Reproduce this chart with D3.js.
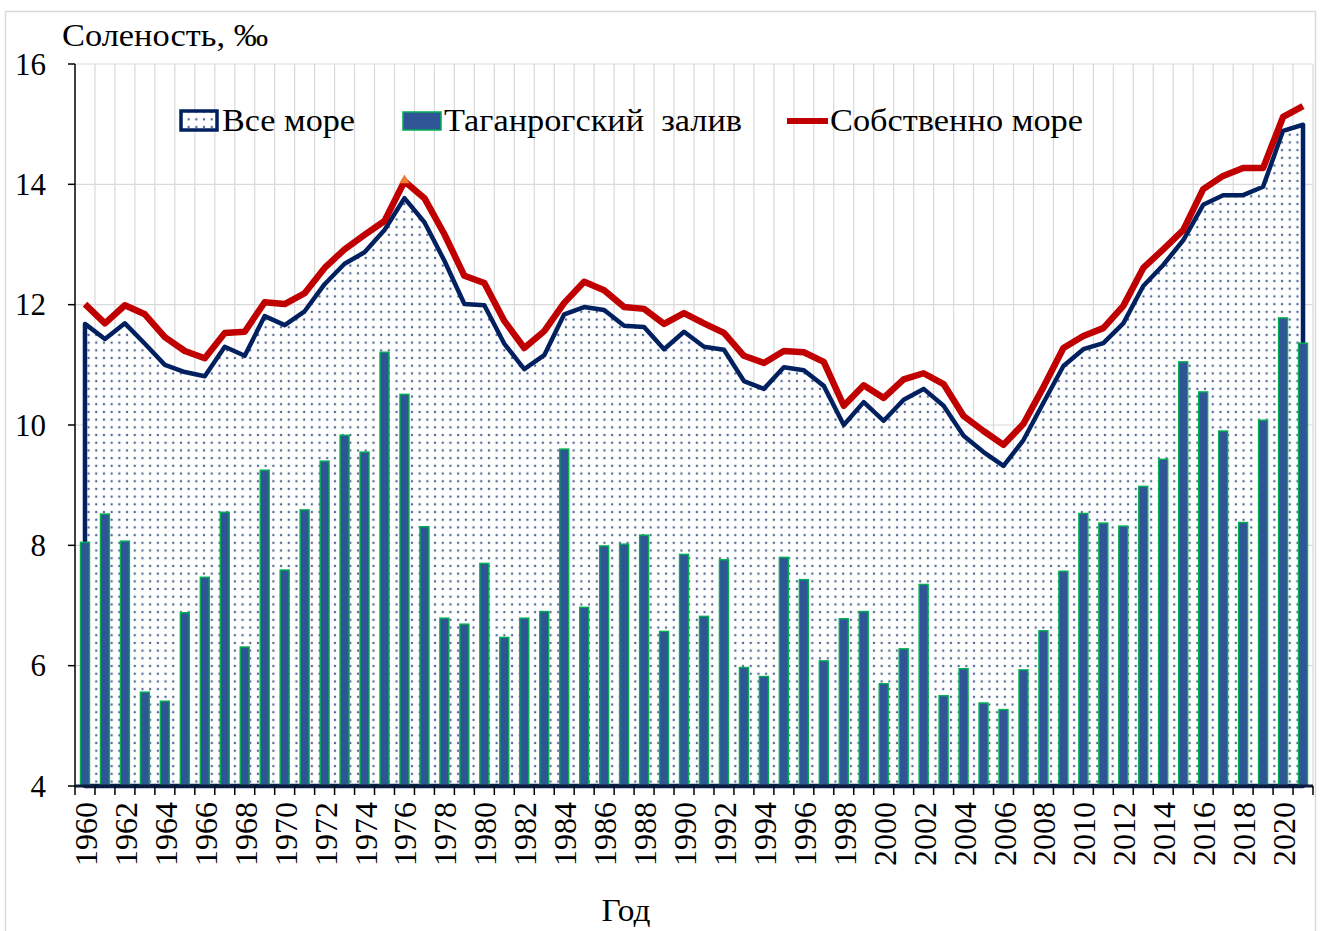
<!DOCTYPE html>
<html><head><meta charset="utf-8">
<script src="https://cdn.jsdelivr.net/npm/d3@7"></script>
<style>body{margin:0;background:#fff} svg{display:block} text{font-family:"Liberation Serif","Times New Roman",serif;fill:#000}</style>
</head><body><svg id="c" width="1320" height="931"></svg>
<script>
const years = [1960,1961,1962,1963,1964,1965,1966,1967,1968,1969,1970,1971,1972,1973,1974,1975,1976,1977,1978,1979,
1980,1981,1982,1983,1984,1985,1986,1987,1988,1989,1990,1991,1992,1993,1994,1995,1996,1997,1998,1999,
2000,2001,2002,2003,2004,2005,2006,2007,2008,2009,2010,2011,2012,2013,2014,2015,2016,2017,2018,2019,2020,2021];
const taganrog = [8.05,8.52,8.07,5.56,5.41,6.88,7.47,8.55,6.31,9.25,7.59,8.59,9.40,9.83,9.55,11.21,10.51,8.31,6.79,6.69,
7.70,6.47,6.79,6.90,9.60,6.97,7.99,8.02,8.17,6.57,7.85,6.82,7.76,5.97,5.82,7.80,7.43,6.08,6.78,6.90,
5.70,6.28,7.35,5.50,5.95,5.38,5.27,5.93,6.58,7.57,8.53,8.37,8.32,8.98,9.43,11.05,10.55,9.90,8.38,10.08,11.78,11.36];
const allSea = [11.68,11.43,11.69,11.35,11.00,10.88,10.81,11.30,11.15,11.81,11.66,11.89,12.34,12.68,12.87,13.24,13.77,13.37,12.73,12.01,
11.99,11.35,10.93,11.16,11.84,11.96,11.91,11.65,11.63,11.26,11.55,11.30,11.25,10.73,10.60,10.96,10.91,10.65,10.00,10.38,
10.07,10.42,10.60,10.32,9.82,9.55,9.32,9.75,10.37,10.98,11.26,11.36,11.69,12.31,12.66,13.07,13.66,13.82,13.82,13.96,14.89,14.99];
const properSea = [12.01,11.69,11.99,11.84,11.46,11.23,11.11,11.53,11.55,12.04,12.01,12.19,12.61,12.92,13.16,13.39,14.05,13.77,13.17,12.48,
12.36,11.73,11.28,11.56,12.03,12.38,12.24,11.96,11.93,11.68,11.86,11.69,11.53,11.15,11.03,11.23,11.21,11.05,10.32,10.66,
10.45,10.76,10.86,10.68,10.15,9.90,9.67,10.02,10.63,11.28,11.48,11.61,11.98,12.61,12.92,13.24,13.92,14.14,14.27,14.27,15.12,15.30];
const yTicks = [4,6,8,10,12,14,16];
const xTickLabels = years.filter(y => y % 2 === 0);
const legendLabels = ["Все море","Таганрогский  залив","Собственно море"];
const yTitle = "Соленость, ‰";
const xTitle = "Год";

const svg = d3.select("#c");
const L = 75, R = 1313, T = 64, B = 786;
const NAVY = "#002060", RED = "#c00000", BAR = "#2f5597", BARSTROKE = "#00b050", GRID = "#d9d9d9";

const x = d3.scaleBand().domain(years).range([L, R]).paddingInner(0.55).paddingOuter(0.275);
const y = d3.scaleLinear().domain([4, 16]).range([B, T]);
const cx = d => x(d) + x.bandwidth() / 2;
const edge = d => x(d) - (x.step() - x.bandwidth()) / 2;

// dotted pattern
const defs = svg.append("defs");
const pat = defs.append("pattern").attr("id","dots").attr("patternUnits","userSpaceOnUse")
  .attr("width",7.7).attr("height",7.7);
pat.append("rect").attr("width",7.7).attr("height",7.7).attr("fill","#fff");
pat.append("circle").attr("cx",3.85).attr("cy",3.85).attr("r",1.4).attr("fill","#b8c4dc");
pat.append("circle").attr("cx",3.85).attr("cy",3.85).attr("r",0.85).attr("fill","#1f3a6e");

// outer border
svg.append("rect").attr("x",5.5).attr("y",11.5).attr("width",1310).attr("height",925)
  .attr("fill","none").attr("stroke","#d9d9d9").attr("stroke-width",1.5);

// gridlines
const gv = svg.append("g");
gv.selectAll("line.v").data(years.slice(1).concat(["end"])).join("line")
  .attr("x1", d => d === "end" ? R : edge(d)).attr("x2", d => d === "end" ? R : edge(d))
  .attr("y1", T).attr("y2", B).attr("stroke", GRID).attr("stroke-width", 1.2);
gv.selectAll("line.h").data(yTicks.slice(1)).join("line")
  .attr("x1", L).attr("x2", R).attr("y1", d => y(d)).attr("y2", d => y(d))
  .attr("stroke", GRID).attr("stroke-width", 1.2);

// area (Все море)
const area = d3.area().x((d,i) => cx(years[i])).y0(y(4)).y1(d => y(d));
svg.append("path").datum(allSea).attr("d", area).attr("fill","url(#dots)")
  .attr("stroke", NAVY).attr("stroke-width", 4.5).attr("stroke-linejoin","round");

// bars (Таганрогский залив)
svg.append("g").selectAll("rect").data(taganrog).join("rect")
  .attr("x", (d,i) => x(years[i])).attr("width", x.bandwidth())
  .attr("y", d => y(d)).attr("height", d => y(4) - y(d))
  .attr("fill", BAR).attr("stroke", BARSTROKE).attr("stroke-width", 1.4);

// red line (Собственно море)
const line = d3.line().x((d,i) => cx(years[i])).y(d => y(d));
svg.append("path").datum(properSea).attr("d", line).attr("fill","none")
  .attr("stroke", RED).attr("stroke-width", 6.5).attr("stroke-linejoin","round");
const i76 = years.indexOf(1976);
svg.append("path").attr("d", d3.symbol().type(d3.symbolTriangle).size(45)())
  .attr("transform", `translate(${cx(1976)},${y(properSea[i76]) - 1})`).attr("fill","#ed7d31");

// axes
svg.append("line").attr("x1",L).attr("x2",L).attr("y1",T).attr("y2",B).attr("stroke","#000").attr("stroke-width",1.5);
svg.append("line").attr("x1",L).attr("x2",R).attr("y1",B).attr("y2",B).attr("stroke","#0d1a3a").attr("stroke-width",3);
svg.append("g").selectAll("line").data(yTicks).join("line")
  .attr("x1", L - 7).attr("x2", L).attr("y1", d => y(d)).attr("y2", d => y(d)).attr("stroke","#000").attr("stroke-width",1.5);
svg.append("g").selectAll("line").data(years.concat(["end"])).join("line")
  .attr("x1", d => d === "end" ? R : edge(d)).attr("x2", d => d === "end" ? R : edge(d))
  .attr("y1", B).attr("y2", B + 9).attr("stroke","#000").attr("stroke-width",1.5);

function stext(px, py, str, opts) {
  const g = svg.append("g").attr("transform", `translate(${px},${py})` + (opts.rot ? " rotate(-90)" : ""));
  const t = g.append("text").text(str).attr("font-size", opts.size)
    .attr("text-anchor", opts.anchor || "start");
  if (opts.baseline) t.attr("dominant-baseline", opts.baseline);
  if (opts.len) t.attr("textLength", opts.len).attr("lengthAdjust","spacingAndGlyphs");
  t.style("white-space","pre");
  return t;
}

yTicks.forEach(v => stext(46, y(v), String(v), {size: 31, anchor: "end", baseline: "central"}));
xTickLabels.forEach(v => stext(cx(v) + 1, 802, String(v), {size: 32, anchor: "end", baseline: "central", rot: true}));

stext(62, 46, yTitle, {size: 32, len: 206});
stext(626, 921, xTitle, {size: 32, anchor: "middle", len: 49});

// legend
const lg = svg.append("g");
lg.append("rect").attr("x",181).attr("y",111).attr("width",36).attr("height",19)
  .attr("fill","url(#dots)").attr("stroke",NAVY).attr("stroke-width",3.5);
stext(222, 131, legendLabels[0], {size: 31, len: 133});
lg.append("rect").attr("x",403).attr("y",112).attr("width",38).attr("height",18)
  .attr("fill",BAR).attr("stroke",BARSTROKE).attr("stroke-width",1.5);
stext(444, 131, legendLabels[1], {size: 31, len: 298});
lg.append("line").attr("x1",787).attr("x2",828).attr("y1",121).attr("y2",121)
  .attr("stroke",RED).attr("stroke-width",6);
stext(830, 131, legendLabels[2], {size: 31, len: 253});
</script></body></html>
